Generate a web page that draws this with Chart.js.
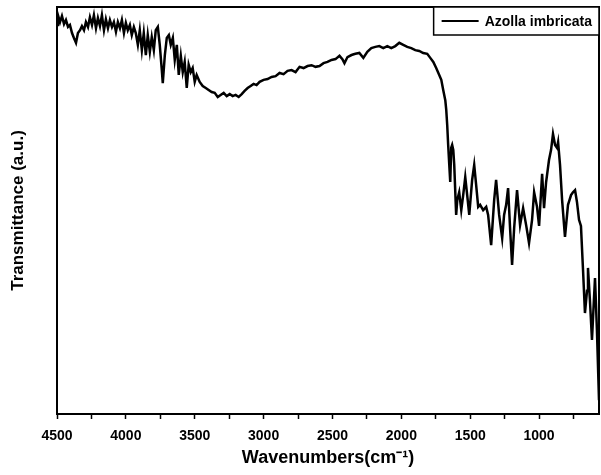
<!DOCTYPE html>
<html>
<head>
<meta charset="utf-8">
<script src="https://cdn.jsdelivr.net/npm/chart.js@4/dist/chart.umd.min.js"></script>
<style>
  html, body { margin: 0; padding: 0; background: #fff; }
  #wrap { width: 601px; height: 475px; }
</style>
</head>
<body>
<div id="wrap"><canvas id="ftir"></canvas></div>
<script>
// FTIR spectrum (wavenumber in cm-1, transmittance in arbitrary units)
const seriesName = 'Azolla imbricata';
const wavenumbers = [
  4500, 4493, 4478, 4464, 4449, 4435, 4420, 4406, 4391, 4377, 4362, 4348, 4333, 4319, 4304, 4290,
  4275, 4261, 4246, 4232, 4217, 4203, 4188, 4174, 4159, 4145, 4130, 4116, 4101, 4087, 4072, 4058,
  4043, 4029, 4014, 4000, 3986, 3971, 3957, 3942, 3928, 3913, 3899, 3884, 3870, 3855, 3841, 3826,
  3812, 3797, 3783, 3768, 3754, 3739, 3732, 3717, 3703, 3688, 3674, 3659, 3645, 3630, 3616, 3601,
  3587, 3573, 3558, 3544, 3529, 3515, 3500, 3486, 3464, 3442, 3420, 3399, 3377, 3355, 3333, 3312,
  3290, 3268, 3246, 3225, 3203, 3181, 3159, 3138, 3116, 3094, 3073, 3051, 3029, 3000, 2971, 2942,
  2913, 2884, 2855, 2826, 2797, 2768, 2739, 2710, 2681, 2652, 2623, 2594, 2565, 2536, 2507, 2478,
  2449, 2428, 2413, 2391, 2362, 2334, 2305, 2276, 2247, 2218, 2189, 2160, 2131, 2102, 2073, 2044,
  2015, 1986, 1957, 1928, 1899, 1870, 1841, 1812, 1790, 1768, 1747, 1725, 1710, 1696, 1681, 1674,
  1667, 1660, 1652, 1645, 1638, 1631, 1623, 1616, 1602, 1594, 1580, 1565, 1551, 1536, 1522, 1507,
  1486, 1471, 1457, 1442, 1428, 1406, 1384, 1370, 1348, 1326, 1312, 1290, 1268, 1254, 1239, 1225,
  1210, 1196, 1181, 1160, 1138, 1116, 1094, 1073, 1051, 1036, 1015, 1000, 978, 964, 949, 928,
  913, 899, 884, 870, 862, 848, 833, 812, 790, 768, 754, 739, 725, 710, 696, 681,
  667, 652, 645, 631, 616, 602, 594, 580, 565
];
const transmittance = [
  95.6, 98.0, 96.3, 97.8, 95.8, 96.8, 95.1, 95.6, 93.6, 92.4, 91.2, 93.6, 94.3, 95.3, 94.3, 96.3,
  95.1, 97.5, 95.6, 98.0, 94.8, 97.3, 95.3, 98.0, 94.3, 97.0, 94.8, 96.8, 95.1, 96.3, 93.9, 96.3,
  94.8, 96.8, 93.6, 96.1, 94.3, 95.6, 93.1, 95.1, 93.6, 90.7, 94.3, 89.4, 93.6, 88.2, 93.1, 89.0,
  92.6, 89.4, 94.3, 95.1, 90.7, 84.5, 81.3, 88.2, 92.4, 93.1, 90.7, 92.4, 87.0, 90.7, 83.3, 88.0,
  84.0, 86.5, 80.1, 85.8, 84.0, 85.0, 81.6, 83.3, 81.6, 80.6, 80.1, 79.6, 79.1, 78.9, 77.9, 78.4,
  78.9, 78.1, 78.6, 78.1, 78.4, 77.9, 78.6, 79.4, 80.1, 80.6, 81.1, 80.8, 81.6, 82.1, 82.3, 82.8,
  83.0, 83.8, 83.5, 84.3, 84.5, 84.0, 85.3, 85.0, 85.5, 85.7, 85.3, 85.5, 86.2, 86.5, 87.0, 87.2,
  88.0, 87.2, 86.2, 87.7, 88.2, 88.5, 88.7, 87.5, 89.0, 89.9, 90.2, 90.4, 89.9, 90.4, 89.9, 90.4,
  91.2, 90.7, 90.2, 89.9, 89.4, 89.2, 88.7, 88.5, 87.5, 86.5, 85.0, 83.3, 82.1, 79.6, 77.1, 74.7,
  71.0, 66.1, 61.2, 57.0, 65.4, 66.1, 64.9, 61.2, 48.9, 52.6, 54.5, 50.1, 53.8, 58.2, 53.8, 48.9,
  57.5, 61.2, 56.3, 50.9, 51.4, 50.1, 50.9, 48.9, 41.5, 52.6, 57.5, 48.9, 43.2, 48.9, 51.4, 55.5,
  45.2, 36.6, 45.7, 55.0, 46.4, 50.6, 46.4, 42.0, 47.7, 54.5, 50.9, 46.2, 59.0, 50.6, 57.0, 62.4,
  64.9, 68.8, 66.1, 65.4, 66.8, 61.2, 52.6, 43.5, 51.4, 53.8, 54.5, 55.0, 52.1, 47.7, 46.2, 35.4,
  24.8, 30.3, 35.9, 28.0, 18.2, 28.0, 33.4, 20.6, 3.4
];
const majorTicks = [4500, 4000, 3500, 3000, 2500, 2000, 1500, 1000];
const minorTicks = [4250, 3750, 3250, 2750, 2250, 1750, 1250, 750];
const xMin = 565;
const xMax = 4500;

const boldFont = "'Liberation Sans', Arial, sans-serif";

// frame round the plot area
const framePlugin = {
  id: 'frame',
  afterDatasetsDraw(chart) {
    const a = chart.chartArea;
    const ctx = chart.ctx;
    ctx.save();
    ctx.strokeStyle = '#000';
    ctx.lineWidth = 2;
    ctx.strokeRect(a.left, a.top, a.right - a.left, a.bottom - a.top);
    ctx.restore();
  }
};

// boxed legend in the top right corner
const boxLegend = {
  id: 'boxLegend',
  afterDraw(chart) {
    const a = chart.chartArea;
    const ctx = chart.ctx;
    const ds = chart.data.datasets[0];
    ctx.save();
    ctx.font = 'bold 14px ' + boldFont;
    const tw = ctx.measureText(ds.label).width;
    const w = tw + 58, h = 28;
    const x = a.right - w, y = a.top;
    ctx.fillStyle = '#fff';
    ctx.fillRect(x, y, w, h);
    ctx.strokeStyle = '#000';
    ctx.lineWidth = 1.5;
    ctx.strokeRect(x, y, w, h);
    ctx.strokeStyle = ds.borderColor;
    ctx.lineWidth = 2;
    ctx.beginPath();
    ctx.moveTo(x + 8, y + h / 2);
    ctx.lineTo(x + 45, y + h / 2);
    ctx.stroke();
    ctx.fillStyle = '#000';
    ctx.textBaseline = 'middle';
    ctx.fillText(ds.label, x + 51, y + h / 2 + 1);
    ctx.restore();
  }
};

new Chart('ftir', {
  type: 'line',
  data: {
    datasets: [{
      label: seriesName,
      data: wavenumbers.map((w, i) => ({ x: w, y: transmittance[i] })),
      borderColor: '#000',
      borderWidth: 2.5,
      pointRadius: 0,
      tension: 0,
      fill: false
    }]
  },
  options: {
    responsive: true,
    maintainAspectRatio: false,
    animation: false,
    layout: { padding: { top: 7, right: 2, left: 0, bottom: 0 } },
    plugins: {
      legend: { display: false },
      tooltip: { enabled: false }
    },
    scales: {
      x: {
        type: 'linear',
        reverse: true,
        min: xMin,
        max: xMax,
        afterBuildTicks(scale) {
          scale.ticks = majorTicks.concat(minorTicks).sort((p, q) => q - p).map(v => ({ value: v }));
        },
        afterFit(scale) { scale.height = 61; },
        grid: {
          drawOnChartArea: false,
          drawTicks: true,
          tickLength: 5,
          tickWidth: 1.5,
          color: '#000'
        },
        border: { display: false },
        ticks: {
          autoSkip: false,
          maxRotation: 0,
          padding: 9,
          color: '#000',
          font: { family: boldFont, size: 14, weight: 'bold' },
          callback: v => majorTicks.includes(v) ? String(v) : ''
        },
        title: {
          display: true,
          text: 'Wavenumbers(cm\u207B\u00B9)',
          color: '#000',
          font: { family: boldFont, size: 18, weight: 'bold' },
          padding: { top: 0, bottom: 6 }
        }
      },
      y: {
        min: 0,
        max: 100,
        afterFit(scale) { scale.width = 57; },
        grid: { display: false },
        border: { display: false },
        ticks: { display: false },
        title: {
          display: true,
          text: 'Transmittance (a.u.)',
          color: '#000',
          font: { family: boldFont, size: 17, weight: 'bold' },
          padding: { top: 8, bottom: 0 }
        }
      }
    }
  },
  plugins: [framePlugin, boxLegend]
});
</script>
</body>
</html>
